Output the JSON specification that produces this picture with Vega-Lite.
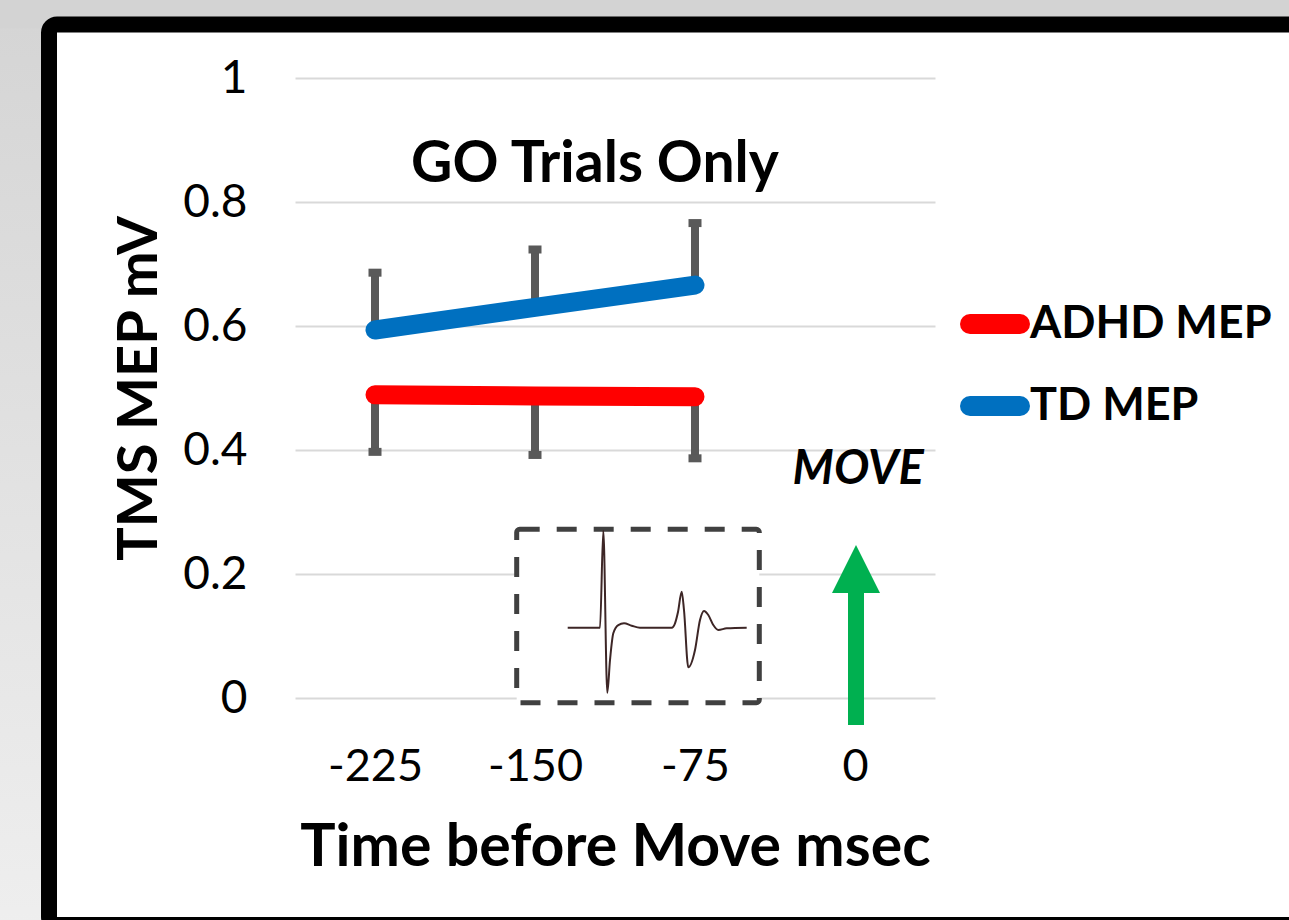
{
  "$schema": "https://vega.github.io/schema/vega-lite/v6.json",
  "width": 640,
  "height": 620,
  "autosize": {"type": "none"},
  "padding": {"left": 295, "top": 78, "right": 354, "bottom": 222},
  "background": "white",
  "config": {"view": {"stroke": null}, "font": "Lato"},
  "datasets": {
    "mep": [
      {"x": -225, "y": 0.5935, "err": 0.686, "group": "TD MEP"},
      {"x": -150, "y": 0.630, "err": 0.7234, "group": "TD MEP"},
      {"x": -75, "y": 0.666, "err": 0.766, "group": "TD MEP"},
      {"x": -225, "y": 0.489, "err": 0.397, "group": "ADHD MEP"},
      {"x": -150, "y": 0.487, "err": 0.392, "group": "ADHD MEP"},
      {"x": -75, "y": 0.486, "err": 0.3866, "group": "ADHD MEP"}
    ],
    "wave": [
      {"x": -134.67, "y": 0.1134}, {"x": -119.53, "y": 0.1134}, {"x": -117.98, "y": 0.2698},
      {"x": -116.11, "y": 0.0085}, {"x": -114.84, "y": 0.0613}, {"x": -113.3, "y": 0.1044},
      {"x": -110.95, "y": 0.1177}, {"x": -108.28, "y": 0.1205}, {"x": -104.67, "y": 0.1166},
      {"x": -100.78, "y": 0.1134}, {"x": -85.92, "y": 0.1134}, {"x": -84.37, "y": 0.1205},
      {"x": -82.97, "y": 0.1387}, {"x": -81.23, "y": 0.1715}, {"x": -80.16, "y": 0.1419},
      {"x": -78.14, "y": 0.0495}, {"x": -75, "y": 0.0774}, {"x": -72.66, "y": 0.1258},
      {"x": -70.78, "y": 0.1403}, {"x": -68.77, "y": 0.1339}, {"x": -66.42, "y": 0.1177},
      {"x": -64.08, "y": 0.1097}, {"x": -60.14, "y": 0.1124}, {"x": -50.77, "y": 0.1134}
    ]
  },
  "encoding": {
    "x": {
      "field": "x", "type": "quantitative",
      "scale": {"domain": [-262.5, 37.5], "nice": false, "zero": false},
      "axis": {
        "values": [-225, -150, -75, 0], "labelExpr": "'' + datum.value", "domain": false, "ticks": false, "grid": false,
        "labelFontSize": 45, "labelColor": "black", "labelPadding": 46,
        "title": "Time before Move msec", "titleFontSize": 59, "titleFontWeight": "bold",
        "titleColor": "black", "titlePadding": 29
      }
    },
    "y": {
      "field": "y", "type": "quantitative",
      "scale": {"domain": [0, 1], "nice": false, "zero": false},
      "axis": {
        "values": [0, 0.2, 0.4, 0.6, 0.8, 1], "format": "~g", "domain": false, "ticks": false,
        "grid": true, "gridColor": "#d9d9d9", "gridWidth": 2,
        "labelFontSize": 46, "labelColor": "black", "labelPadding": 48,
        "title": "TMS MEP mV", "titleFontSize": 56, "titleFontWeight": "bold",
        "titleColor": "black", "titlePadding": 14
      }
    }
  },
  "layer": [
    {
      "data": {"values": [{"x": -410, "x2": -377, "y": -0.4, "y2": 1.2}]},
      "mark": {"type": "rect", "color": {"gradient": "linear", "x1": 0, "y1": 0, "x2": 0, "y2": 1, "stops": [{"offset": 0, "color": "#d3d3d3"}, {"offset": 1, "color": "#efefef"}]}},
      "encoding": {"x2": {"field": "x2"}, "y2": {"field": "y2"}}
    },
    {
      "data": {"values": [{"x": -410, "x2": 220, "y": 1.08, "y2": 1.2}]},
      "mark": {"type": "rect", "color": "#d3d3d3"},
      "encoding": {"x2": {"field": "x2"}, "y2": {"field": "y2"}}
    },
    {
      "data": {"values": [{"x": -377.81, "x2": 215, "y": -0.366, "y2": 1.0863}]},
      "mark": {"type": "rect", "filled": false, "stroke": "black", "strokeWidth": 16, "cornerRadius": 8},
      "encoding": {"x2": {"field": "x2"}, "y2": {"field": "y2"}}
    },
    {
      "data": {"name": "mep"},
      "mark": {"type": "rule", "color": "#595959", "strokeWidth": 8},
      "encoding": {"y2": {"field": "err"}}
    },
    {
      "data": {"name": "mep"},
      "mark": {"type": "tick", "color": "#595959", "orient": "horizontal", "size": 13, "thickness": 8, "opacity": 1},
      "encoding": {
        "y": {
          "field": "err", "type": "quantitative",
          "scale": {"domain": [0, 1], "nice": false, "zero": false},
          "axis": {
            "values": [0, 0.2, 0.4, 0.6, 0.8, 1], "format": "~g", "domain": false, "ticks": false,
            "grid": true, "gridColor": "#d9d9d9", "gridWidth": 2,
            "labelFontSize": 46, "labelColor": "black", "labelPadding": 48,
            "title": "TMS MEP mV", "titleFontSize": 56, "titleFontWeight": "bold",
            "titleColor": "black", "titlePadding": 14
          }
        }
      }
    },
    {
      "data": {"name": "mep"},
      "mark": {"type": "line", "strokeWidth": 19, "strokeCap": "round", "strokeJoin": "round"},
      "encoding": {
        "color": {
          "field": "group", "type": "nominal",
          "scale": {"domain": ["ADHD MEP", "TD MEP"], "range": ["#ff0000", "#0070c0"]},
          "legend": {
            "orient": "none", "legendX": 665, "legendY": 211, "title": null, "padding": 0,
            "symbolType": "stroke", "symbolSize": 2500, "symbolStrokeWidth": 20,
            "labelFontSize": 45, "labelFontWeight": "bold", "labelColor": "black",
            "labelOffset": 0, "rowPadding": 2, "labelLimit": 400,
            "encode": {"symbols": {"update": {"strokeCap": {"value": "round"}}}}
          }
        }
      }
    },
    {
      "data": {"values": [{"x": -158.58, "x2": -44.86, "y": -0.0076, "y2": 0.2721}]},
      "mark": {"type": "rect", "fill": "white", "stroke": "#404040", "strokeWidth": 5, "strokeDash": [20, 17], "cornerRadius": 3},
      "encoding": {"x2": {"field": "x2"}, "y2": {"field": "y2"}}
    },
    {
      "data": {"name": "wave"},
      "mark": {"type": "line", "color": "#3d2626", "strokeWidth": 2, "strokeJoin": "round", "interpolate": "monotone"}
    },
    {
      "data": {"values": [{"x": 0.47, "y": -0.0435, "y2": 0.175}]},
      "mark": {"type": "rule", "color": "#00b050", "strokeWidth": 16},
      "encoding": {"y2": {"field": "y2"}}
    },
    {
      "data": {"values": [{"x": 0.47, "y": 0.208}]},
      "mark": {"type": "point", "shape": "M0,-1L1,1L-1,1Z", "size": 2304, "filled": true, "color": "#00b050", "opacity": 1}
    },
    {
      "data": {"values": [{"x": -121.9, "y": 0.86, "label": "GO Trials Only"}]},
      "mark": {"type": "text", "fontSize": 57, "fontWeight": "bold", "color": "black", "baseline": "middle", "align": "center"},
      "encoding": {"text": {"field": "label"}}
    },
    {
      "data": {"values": [{"x": 1.5, "y": 0.368, "label": "MOVE"}]},
      "mark": {"type": "text", "fontSize": 47, "fontWeight": "bold", "fontStyle": "italic", "color": "black", "baseline": "middle", "align": "center"},
      "encoding": {"text": {"field": "label"}}
    }
  ]
}
